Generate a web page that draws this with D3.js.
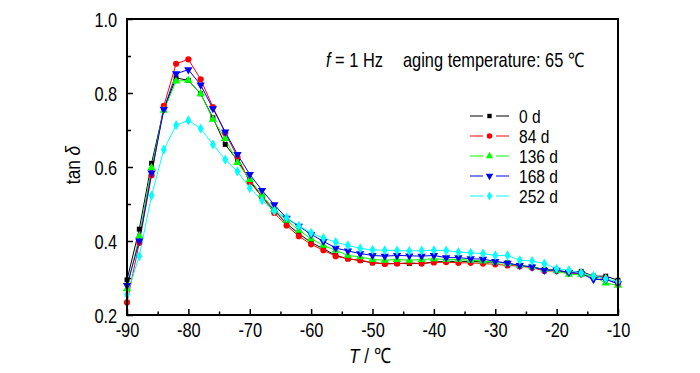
<!DOCTYPE html>
<html>
<head>
<meta charset="utf-8">
<script src="https://cdn.jsdelivr.net/npm/d3@7"></script>
<style>
  body { margin: 0; background: #fff; }
  text { font-family: "Liberation Sans", Arial, sans-serif; fill: #000; }
</style>
</head>
<body>
<svg id="chart" width="700" height="373"></svg>
<script>
// temperature (°C), one reading every 2 degrees
const temps = [-90, -88, -86, -84, -82, -80, -78, -76, -74, -72, -70, -68, -66, -64, -62, -60, -58, -56, -54, -52,
               -50, -48, -46, -44, -42, -40, -38, -36, -34, -32, -30, -28, -26, -24, -22, -20, -18, -16, -14, -12, -10];

// tan delta for each aging time
const tan0d = [0.295, 0.432, 0.610, 0.755, 0.841, 0.834, 0.798, 0.733, 0.661, 0.618, 0.564, 0.519, 0.483, 0.447, 0.420, 0.396, 0.379, 0.361, 0.352, 0.347,
               0.341, 0.339, 0.339, 0.339, 0.339, 0.343, 0.345, 0.345, 0.345, 0.343, 0.343, 0.341, 0.332, 0.330, 0.323, 0.321, 0.315, 0.318, 0.305, 0.305, 0.294];
const tan84d = [0.234, 0.395, 0.578, 0.765, 0.879, 0.891, 0.837, 0.762, 0.692, 0.627, 0.559, 0.520, 0.476, 0.442, 0.413, 0.391, 0.375, 0.359, 0.352, 0.348,
                0.342, 0.338, 0.339, 0.341, 0.339, 0.342, 0.343, 0.341, 0.341, 0.339, 0.337, 0.334, 0.332, 0.328, 0.319, 0.319, 0.314, 0.310, 0.303, 0.298, 0.283];
const tan136d = [0.271, 0.413, 0.598, 0.753, 0.832, 0.834, 0.798, 0.729, 0.677, 0.612, 0.566, 0.524, 0.485, 0.456, 0.429, 0.406, 0.388, 0.375, 0.361, 0.357,
                 0.350, 0.348, 0.350, 0.348, 0.350, 0.352, 0.350, 0.350, 0.348, 0.346, 0.343, 0.339, 0.334, 0.330, 0.323, 0.319, 0.310, 0.310, 0.305, 0.286, 0.280];
const tan168d = [0.280, 0.400, 0.584, 0.756, 0.852, 0.863, 0.822, 0.758, 0.695, 0.634, 0.580, 0.537, 0.498, 0.462, 0.440, 0.418, 0.399, 0.381, 0.373, 0.366,
                 0.361, 0.359, 0.361, 0.360, 0.359, 0.361, 0.355, 0.355, 0.352, 0.351, 0.345, 0.340, 0.334, 0.330, 0.321, 0.321, 0.315, 0.312, 0.296, 0.296, 0.285];
const tan252d = [0.255, 0.359, 0.523, 0.647, 0.713, 0.726, 0.704, 0.661, 0.620, 0.588, 0.543, 0.510, 0.481, 0.463, 0.441, 0.422, 0.408, 0.397, 0.388, 0.380,
                 0.376, 0.375, 0.374, 0.373, 0.374, 0.375, 0.374, 0.370, 0.368, 0.366, 0.361, 0.361, 0.348, 0.346, 0.339, 0.325, 0.321, 0.314, 0.305, 0.298, 0.290];

const seriesNames = ["0 d", "84 d", "136 d", "168 d", "252 d"];
const seriesValues = [tan0d, tan84d, tan136d, tan168d, tan252d];
const seriesColors = ["#000000", "#ff0000", "#00ff00", "#0000ff", "#00ffff"];

const xTicks = [-90, -80, -70, -60, -50, -40, -30, -20, -10];
const yTicks = [0.2, 0.4, 0.6, 0.8, 1.0];

const margin = {left: 127, right: 82, top: 19, bottom: 58};
const width = 700, height = 373;
const squeeze = 0.82; // the original uses a narrow sans face

const svg = d3.select("#chart");

const x = d3.scaleLinear().domain([-90, -10]).range([margin.left, width - margin.right]);
const y = d3.scaleLinear().domain([0.2, 1.0]).range([height - margin.bottom, margin.top]);

// marker shapes, order matches the series
const shapes = [
    {type: d3.symbolSquare, size: 24, rot: 0},
    {type: d3.symbolCircle, size: 30, rot: 0},
    {type: d3.symbolTriangle, size: 30, rot: 0},
    {type: d3.symbolTriangle, size: 30, rot: 180},
    {type: d3.symbolDiamond, size: 30, rot: 0}
];

const series = seriesNames.map((name, i) => ({
    name: name,
    color: seriesColors[i],
    shape: shapes[i],
    points: temps.map((t, j) => ({t: t, v: seriesValues[i][j]}))
}));

const line = d3.line().x(d => x(d.t)).y(d => y(d.v));

// curves
const g = svg.append("g");
series.forEach(s => {
    g.append("path")
        .datum(s.points)
        .attr("fill", "none")
        .attr("stroke", s.color)
        .attr("stroke-width", 1)
        .attr("d", line);
});
series.forEach(s => {
    g.append("g").selectAll("path")
        .data(s.points)
        .enter().append("path")
        .attr("fill", s.color)
        .attr("d", d3.symbol().type(s.shape.type).size(s.shape.size))
        .attr("transform", d => `translate(${x(d.t)},${y(d.v)}) rotate(${s.shape.rot})`);
});

// axes, ticks point inward
const xAxis = svg.append("g")
    .attr("transform", `translate(0,${height - margin.bottom})`)
    .call(d3.axisBottom(x).tickValues(xTicks).tickSizeInner(-6).tickSizeOuter(0).tickPadding(8).tickFormat(d3.format("d")));
const xMinor = svg.append("g")
    .attr("transform", `translate(0,${height - margin.bottom})`)
    .call(d3.axisBottom(x).tickValues(xTicks.slice(1).map(d => d - 5)).tickSizeInner(-3.5).tickSizeOuter(0).tickFormat(""));

const yAxis = svg.append("g")
    .attr("transform", `translate(${margin.left},0)`)
    .call(d3.axisLeft(y).tickValues(yTicks).tickSizeInner(-6).tickSizeOuter(0).tickPadding(12).tickFormat(d3.format(".1f")));
const yMinor = svg.append("g")
    .attr("transform", `translate(${margin.left},0)`)
    .call(d3.axisLeft(y).tickValues(yTicks.slice(1).map(d => d - 0.1)).tickSizeInner(-4).tickSizeOuter(0).tickFormat(""));

[xAxis, xMinor, yAxis, yMinor].forEach(a => {
    a.select(".domain").remove();
    a.selectAll("line").attr("stroke", "#000").attr("stroke-width", 1.5);
    a.selectAll("text")
        .attr("font-size", 20)
        .attr("fill", "#000")
        .attr("transform", `scale(${squeeze},1)`)
        .style("font-family", '"Liberation Sans", Arial, sans-serif');
});
xAxis.selectAll("text").text(d => d3.format("d")(d).replace("\u2212", "-"));
yAxis.selectAll("text").attr("dy", "0.36em");

// frame
svg.append("rect")
    .attr("x", margin.left)
    .attr("y", margin.top)
    .attr("width", width - margin.left - margin.right)
    .attr("height", height - margin.top - margin.bottom)
    .attr("fill", "none")
    .attr("stroke", "#000")
    .attr("stroke-width", 2);

// narrow text helper
function label(px, py, size, rot) {
    return svg.append("text")
        .attr("transform", `translate(${px},${py}) rotate(${rot || 0}) scale(${squeeze},1)`)
        .attr("font-size", size);
}

// axis titles
const xt = label(349, 363, 21);
xt.append("tspan").attr("font-style", "italic").text("T");
xt.append("tspan").text(" / \u2103");

const yt = label(80, 165, 21, -90).attr("text-anchor", "middle");
yt.append("tspan").text("tan ");
yt.append("tspan").attr("font-style", "italic").text("\u03b4");

// annotation
const note = label(326, 67, 20);
note.append("tspan").attr("font-style", "italic").text("f");
note.append("tspan").text(" = 1 Hz");
label(403, 67, 20).text("aging temperature: 65 \u2103");

// legend
const legend = svg.append("g");
series.forEach((s, i) => {
    const ly = 116 + i * 20;
    legend.append("line").attr("x1", 470).attr("x2", 483).attr("y1", ly).attr("y2", ly)
        .attr("stroke", s.color).attr("stroke-width", 1);
    legend.append("line").attr("x1", 496).attr("x2", 509).attr("y1", ly).attr("y2", ly)
        .attr("stroke", s.color).attr("stroke-width", 1);
    legend.append("path")
        .attr("fill", s.color)
        .attr("d", d3.symbol().type(s.shape.type).size(s.shape.size * 0.8))
        .attr("transform", `translate(489.5,${ly}) rotate(${s.shape.rot})`);
    label(519, ly + 7, 19).text(s.name);
});
</script>
</body>
</html>
